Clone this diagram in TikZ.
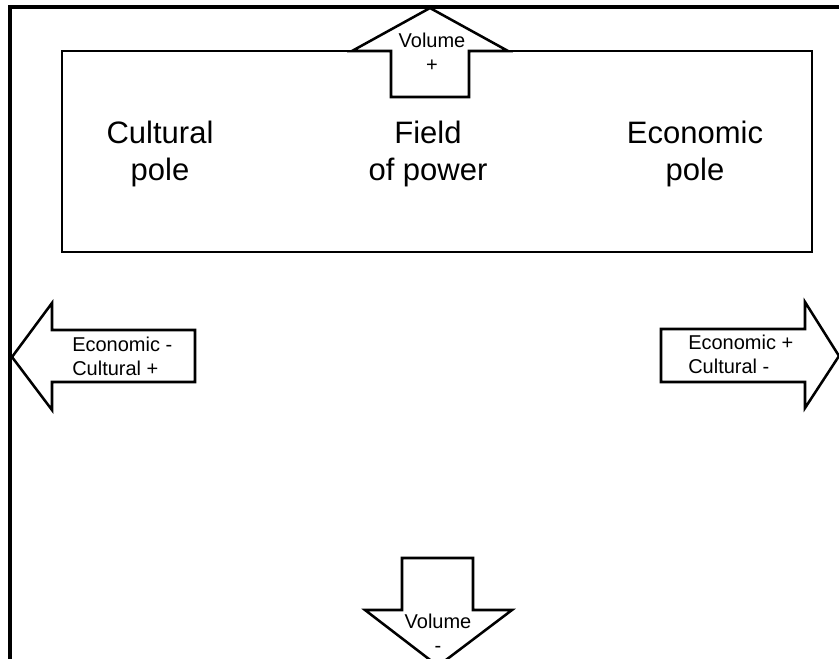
\documentclass[tikz,border=0pt]{standalone}
\usepackage{fontspec}
\setmainfont{Liberation Sans}
\begin{document}
\begin{tikzpicture}[x=0.75pt,y=-0.75pt,
  arrowshape/.style={draw=black, line width=1.9pt, fill=white, line join=miter},
  bigtext/.style={font=\fontsize{23.25pt}{27.75pt}\selectfont, align=center, inner sep=0pt},
  smalltext/.style={font=\fontsize{15pt}{18pt}\selectfont, inner sep=0pt}]
\useasboundingbox (0,0) rectangle (839,659);
\fill[white] (0,0) rectangle (839,659);
% outer frame (top and left)
\draw[line width=2.3pt] (845,7) -- (10,7) -- (10,665);
% field of power box
\draw[line width=1.9pt] (62,51) rectangle (812,252);
% top arrow (Volume +)
\draw[arrowshape] (391,97) -- (391,51) -- (352,51) -- (430,8) -- (508,51) -- (469,51) -- (469,97) -- cycle;
% left arrow
\draw[arrowshape] (195,330) -- (52,330) -- (52,303) -- (12,357) -- (52,410) -- (52,382) -- (195,382) -- cycle;
% right arrow
\draw[arrowshape] (661,329) -- (805,329) -- (805,302) -- (839,356) -- (805,408) -- (805,382) -- (661,382) -- cycle;
% bottom arrow
\draw[arrowshape] (402,558) -- (473,558) -- (473,610) -- (512,610) -- (438,666) -- (365,610) -- (402,610) -- cycle;
% texts
\node[bigtext] (cult) at (160,154) {Cultural\\pole};
\node[bigtext] (field) at (428,154) {Field\\of power};
\node[bigtext] (econ) at (695,154) {Economic\\pole};
\node[smalltext, align=center] (volp) at (432,52) {Volume\\+};
\node[smalltext, align=left, anchor=west] (lefttxt) at (72,356) {Economic -\\Cultural +};
\node[smalltext, align=left, anchor=west] (righttxt) at (688,354) {Economic +\\Cultural -};
\node[smalltext, align=center] (volm) at (438,633) {Volume\\-};
\end{tikzpicture}
\end{document}
